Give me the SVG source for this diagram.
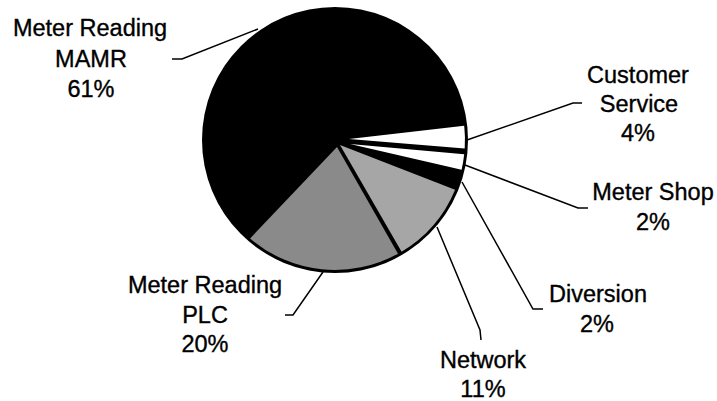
<svg xmlns="http://www.w3.org/2000/svg" width="717" height="401" viewBox="0 0 717 401">
<style>
.lbl{font-family:"Liberation Sans",Arial,sans-serif;font-size:23.5px;fill:#000;stroke:#000;stroke-width:0.35;text-anchor:middle}
.lead{fill:none;stroke:#000;stroke-width:1.5}
</style>
<rect width="717" height="401" fill="#fff"/>
<g id="pie">
<circle cx="335" cy="140" r="133" fill="#000"/>
<g id="slice-mamr"><path d="M335,140 L250.1,238.4 A130,130 0 1 1 464.2,125.7 Z" fill="#000"/></g>
<g id="slice-customer-service"><path d="M349,139 L464.2,125.7 A130,130 0 0 1 464.7,148.6 Z" fill="#fff"/></g>
<g id="slice-meter-shop"><path d="M350,144 L464.2,154.3 A130,130 0 0 1 461.6,169.7 Z" fill="#fff"/></g>
<g id="slice-diversion"><path d="M343,146 L461.6,172 A130,130 0 0 1 455.5,188 Z" fill="#000"/></g>
<g id="slice-network"><path d="M340,145 L455.1,189.7 A130,130 0 0 1 401.6,251.7 Z" fill="#a6a6a6"/></g>
<g id="slice-plc"><path d="M337,147 L398,253.7 A130,130 0 0 1 250.1,238.4 Z" fill="#8a8a8a"/></g>
</g>
<g id="connectors">
<polyline class="lead" points="258,29 182,59 172,59"/>
<polyline class="lead" points="467,140 573,103 582,103"/>
<polyline class="lead" points="465,165 578,208 588,208"/>
<polyline class="lead" points="462,182 533,309 543,309"/>
<polyline class="lead" points="437,227 480,330 481,340"/>
<polyline class="lead" points="323,272 293,315 285,315"/>
</g>
<g id="label-mamr">
<text class="lbl" x="90" y="36">Meter Reading</text>
<text class="lbl" x="91" y="67">MAMR</text>
<text class="lbl" x="91" y="97">61%</text>
</g>
<g id="label-customer-service">
<text class="lbl" x="638" y="83">Customer</text>
<text class="lbl" x="639" y="112">Service</text>
<text class="lbl" x="638" y="141">4%</text>
</g>
<g id="label-meter-shop">
<text class="lbl" x="653" y="200">Meter Shop</text>
<text class="lbl" x="653" y="230">2%</text>
</g>
<g id="label-diversion">
<text class="lbl" x="598" y="302">Diversion</text>
<text class="lbl" x="597" y="332">2%</text>
</g>
<g id="label-network">
<text class="lbl" x="483" y="368">Network</text>
<text class="lbl" x="483" y="397">11%</text>
</g>
<g id="label-plc">
<text class="lbl" x="205" y="293">Meter Reading</text>
<text class="lbl" x="205" y="323">PLC</text>
<text class="lbl" x="205" y="352">20%</text>
</g>
</svg>
